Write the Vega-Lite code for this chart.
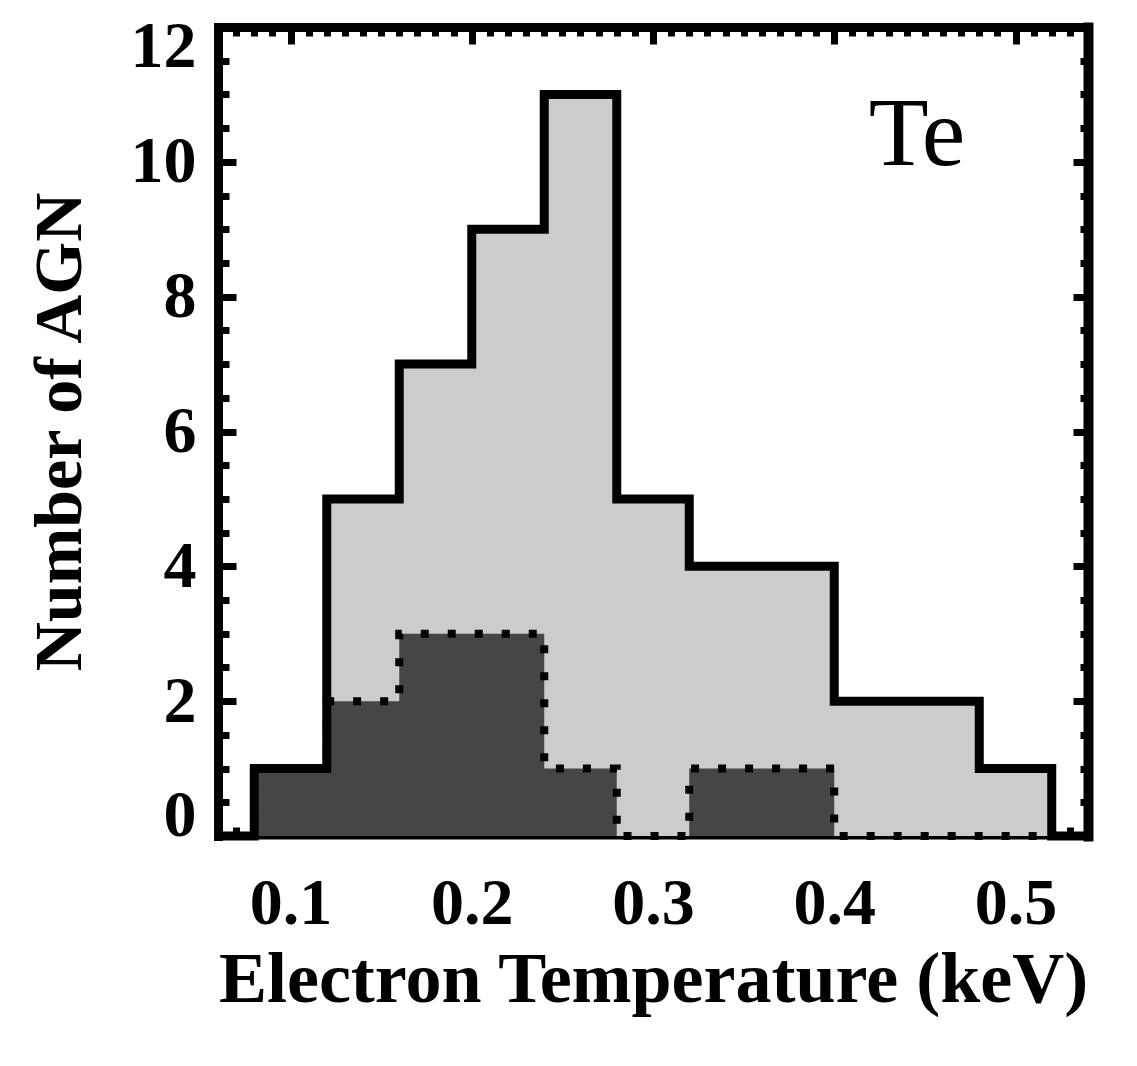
{
  "$schema": "https://vega.github.io/schema/vega-lite/v6.json",
  "width": 870,
  "height": 809,
  "autosize": {"type": "none"},
  "padding": {"left": 218, "top": 27, "right": 49, "bottom": 230},
  "background": "white",
  "config": {"view": {"stroke": null}},
  "data": {
    "values": [
      {"te": 0.06, "all_agn": 0, "subset": 0},
      {"te": 0.08, "all_agn": 1, "subset": 1},
      {"te": 0.12, "all_agn": 5, "subset": 2},
      {"te": 0.16, "all_agn": 7, "subset": 3},
      {"te": 0.20, "all_agn": 9, "subset": 3},
      {"te": 0.24, "all_agn": 11, "subset": 1},
      {"te": 0.28, "all_agn": 5, "subset": 0},
      {"te": 0.32, "all_agn": 4, "subset": 1},
      {"te": 0.36, "all_agn": 4, "subset": 1},
      {"te": 0.40, "all_agn": 2, "subset": 0},
      {"te": 0.44, "all_agn": 2, "subset": 0},
      {"te": 0.48, "all_agn": 1, "subset": 0},
      {"te": 0.52, "all_agn": 0, "subset": 0},
      {"te": 0.54, "all_agn": 0, "subset": 0}
    ]
  },
  "layer": [
    {
      "mark": {"type": "area", "interpolate": "step-after", "color": "#cccccc"},
      "encoding": {
        "x": {
          "field": "te", "type": "quantitative",
          "scale": {"domain": [0.06, 0.54], "nice": false, "zero": false},
          "axis": {
            "orient": "bottom",
            "title": "Electron Temperature (keV)",
            "values": [0.06,0.07,0.08,0.09,0.1,0.11,0.12,0.13,0.14,0.15,0.16,0.17,0.18,0.19,0.2,0.21,0.22,0.23,0.24,0.25,0.26,0.27,0.28,0.29,0.3,0.31,0.32,0.33,0.34,0.35,0.36,0.37,0.38,0.39,0.4,0.41,0.42,0.43,0.44,0.45,0.46,0.47,0.48,0.49,0.5,0.51,0.52,0.53,0.54],
            "labelExpr": "abs(datum.value*10 - round(datum.value*10)) < 1e-6 ? format(datum.value, '.1f') : ''",
            "labelOverlap": false,
            "labelFlush": false,
            "tickSize": {"condition": {"test": "abs(datum.value*10 - round(datum.value*10)) < 1e-6", "value": -17}, "value": -9},
            "tickWidth": 7,
            "tickColor": "black",
            "domainColor": "black",
            "domainWidth": 6,
            "domainCap": "square",
            "grid": false,
            "labelPadding": 52,
            "labelFont": "Liberation Serif",
            "labelFontSize": 66,
            "labelFontWeight": "bold",
            "labelColor": "black",
            "titleFont": "Liberation Serif",
            "titleFontSize": 72,
            "titleFontWeight": "bold",
            "titleColor": "black",
            "titlePadding": 0
          }
        },
        "y": {
          "field": "all_agn", "type": "quantitative",
          "scale": {"domain": [0, 12], "nice": false},
          "axis": {
            "orient": "left",
            "title": "Number of AGN",
            "values": [0,0.5,1,1.5,2,2.5,3,3.5,4,4.5,5,5.5,6,6.5,7,7.5,8,8.5,9,9.5,10,10.5,11,11.5,12],
            "labelExpr": "datum.value % 2 === 0 ? format(datum.value, 'd') : ''",
            "labelOverlap": false,
            "labelFlush": true,
            "labelFlushOffset": 13,
            "tickSize": {"condition": {"test": "datum.value % 2 === 0", "value": -18}, "value": -11},
            "tickWidth": 7,
            "tickColor": "black",
            "domainColor": "black",
            "domainWidth": 9,
            "domainCap": "square",
            "grid": false,
            "labelPadding": 40,
            "labelFont": "Liberation Serif",
            "labelFontSize": 66,
            "labelFontWeight": "bold",
            "labelColor": "black",
            "titleFont": "Liberation Serif",
            "titleFontSize": 68,
            "titleFontWeight": "bold",
            "titleColor": "black",
            "titlePadding": 36
          }
        }
      }
    },
    {
      "mark": {"type": "area", "interpolate": "step-after", "color": "#464646"},
      "encoding": {
        "x": {
          "field": "te", "type": "quantitative",
          "axis": {
            "orient": "top",
            "title": null,
            "labels": false,
            "values": [0.06,0.07,0.08,0.09,0.1,0.11,0.12,0.13,0.14,0.15,0.16,0.17,0.18,0.19,0.2,0.21,0.22,0.23,0.24,0.25,0.26,0.27,0.28,0.29,0.3,0.31,0.32,0.33,0.34,0.35,0.36,0.37,0.38,0.39,0.4,0.41,0.42,0.43,0.44,0.45,0.46,0.47,0.48,0.49,0.5,0.51,0.52,0.53,0.54],
            "tickSize": {"condition": {"test": "abs(datum.value*10 - round(datum.value*10)) < 1e-6", "value": -17}, "value": -9},
            "tickWidth": 7,
            "tickColor": "black",
            "domainColor": "black",
            "domainWidth": 9,
            "domainCap": "square",
            "grid": false
          }
        },
        "y": {
          "field": "subset", "type": "quantitative",
          "axis": {
            "orient": "right",
            "title": null,
            "labels": false,
            "values": [0,0.5,1,1.5,2,2.5,3,3.5,4,4.5,5,5.5,6,6.5,7,7.5,8,8.5,9,9.5,10,10.5,11,11.5,12],
            "tickSize": {"condition": {"test": "datum.value % 2 === 0", "value": -15}, "value": -8},
            "tickWidth": 7,
            "tickColor": "black",
            "domainColor": "black",
            "domainWidth": 10,
            "domainCap": "square",
            "grid": false
          }
        }
      }
    },
    {
      "mark": {"type": "line", "interpolate": "step-after", "color": "black", "strokeWidth": 9, "strokeJoin": "miter"},
      "encoding": {
        "x": {"field": "te", "type": "quantitative", "axis": null},
        "y": {"field": "all_agn", "type": "quantitative", "axis": null}
      }
    },
    {
      "mark": {"type": "line", "interpolate": "step-after", "color": "black", "strokeWidth": 8, "strokeDash": [8, 19], "strokeCap": "butt"},
      "encoding": {
        "x": {"field": "te", "type": "quantitative", "axis": null},
        "y": {"field": "subset", "type": "quantitative", "axis": null}
      }
    },
    {
      "data": {"values": [{"te": 0.4457, "count": 9.95, "label": "Te"}]},
      "mark": {"type": "text", "font": "Liberation Serif", "fontSize": 98, "align": "center", "baseline": "alphabetic", "color": "black"},
      "encoding": {
        "x": {"field": "te", "type": "quantitative", "axis": null},
        "y": {"field": "count", "type": "quantitative", "axis": null},
        "text": {"field": "label"}
      }
    }
  ],
  "resolve": {"axis": {"x": "independent", "y": "independent"}}
}
